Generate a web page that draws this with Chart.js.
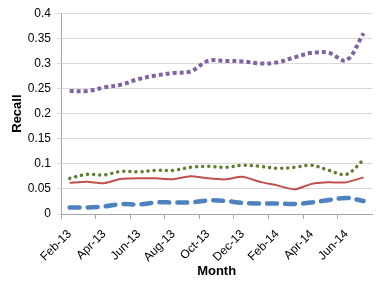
<!DOCTYPE html>
<html><head><meta charset="utf-8">
<script src="https://cdn.jsdelivr.net/npm/chart.js@4"></script>
<style>html,body{margin:0;padding:0;background:#fff}#wrap{width:382px;height:286px}</style>
</head><body><div id="wrap"><canvas id="c" width="382" height="286"></canvas></div>
<script>
const months = ["Feb-13","Mar-13","Apr-13","May-13","Jun-13","Jul-13","Aug-13","Sep-13","Oct-13","Nov-13","Dec-13","Jan-14","Feb-14","Mar-14","Apr-14","May-14","Jun-14","Jul-14"];
const purpleSeries = [0.245,0.245,0.252,0.258,0.269,0.276,0.281,0.284,0.305,0.305,0.304,0.300,0.302,0.312,0.321,0.321,0.306,0.360];
const greenSeries  = [0.071,0.079,0.078,0.085,0.084,0.087,0.087,0.093,0.095,0.093,0.097,0.095,0.091,0.093,0.097,0.087,0.079,0.108];
const redSeries    = [0.062,0.064,0.0615,0.070,0.0714,0.071,0.0694,0.075,0.071,0.069,0.074,0.064,0.057,0.049,0.060,0.063,0.063,0.073];
const blueSeries   = [0.013,0.013,0.015,0.020,0.019,0.023,0.023,0.023,0.027,0.026,0.022,0.021,0.021,0.020,0.023,0.028,0.032,0.026];
const yTicks = [0,0.05,0.1,0.15,0.2,0.25,0.3,0.35,0.4];

const FONT = "'Liberation Sans', Arial, sans-serif";
new Chart(document.getElementById('c'), {
  type: 'line',
  data: {
    labels: months,
    datasets: [
      {label:'A', data: purpleSeries, borderColor:'#8064a2', borderWidth:4, borderDash:[4,3], tension:0.35, pointRadius:0, fill:false},
      {label:'B', data: greenSeries, borderColor:'#627d33', borderWidth:3.5, borderDash:[0.1,6], borderCapStyle:'round', tension:0.35, pointRadius:0, fill:false},
      {label:'C', data: redSeries, borderColor:'#c0504d', borderWidth:2, tension:0.2, pointRadius:0, fill:false},
      {label:'D', data: blueSeries, borderColor:'#4f81bd', borderWidth:4.5, borderDash:[10,8], borderCapStyle:'round', tension:0.35, pointRadius:0, fill:false}
    ]
  },
  options: {
    responsive:false, animation:false,
    layout:{padding:{top:4,right:8,left:0,bottom:0}},
    plugins:{legend:{display:false}, tooltip:{enabled:false}},
    scales:{
      x:{
        offset:true,
        grid:{offset:true, drawOnChartArea:false, tickLength:5,
          color:(ctx)=> (ctx.index % 2 === 0 ? '#a6a6a6' : 'rgba(0,0,0,0)')},
        border:{color:'#a6a6a6'},
        ticks:{autoSkip:false, minRotation:45, maxRotation:45, padding:8, color:'#000',
          font:{family:FONT, size:12},
          callback:(v,i)=> (i % 2 === 0 ? months[i] : '')},
        title:{display:true, text:'Month', color:'#000', font:{family:FONT, size:13, weight:'bold'}, padding:{top:2,bottom:7}},
        afterFit:(s)=>{ s.height = 72; }
      },
      y:{
        min:0, max:0.4,
        afterBuildTicks:(s)=>{ s.ticks = yTicks.map(v=>({value:v})); },
        grid:{color:'#d9d9d9', tickLength:4},
        border:{color:'#a6a6a6'},
        ticks:{color:'#000', padding:6, font:{family:FONT, size:12},
          callback:(v)=> String(+v.toFixed(2))},
        title:{display:true, text:'Recall', color:'#000', font:{family:FONT, size:13, weight:'bold'}, padding:{top:10,bottom:2}},
        afterFit:(s)=>{ s.width = 61; }
      }
    }
  }
});
</script></body></html>
